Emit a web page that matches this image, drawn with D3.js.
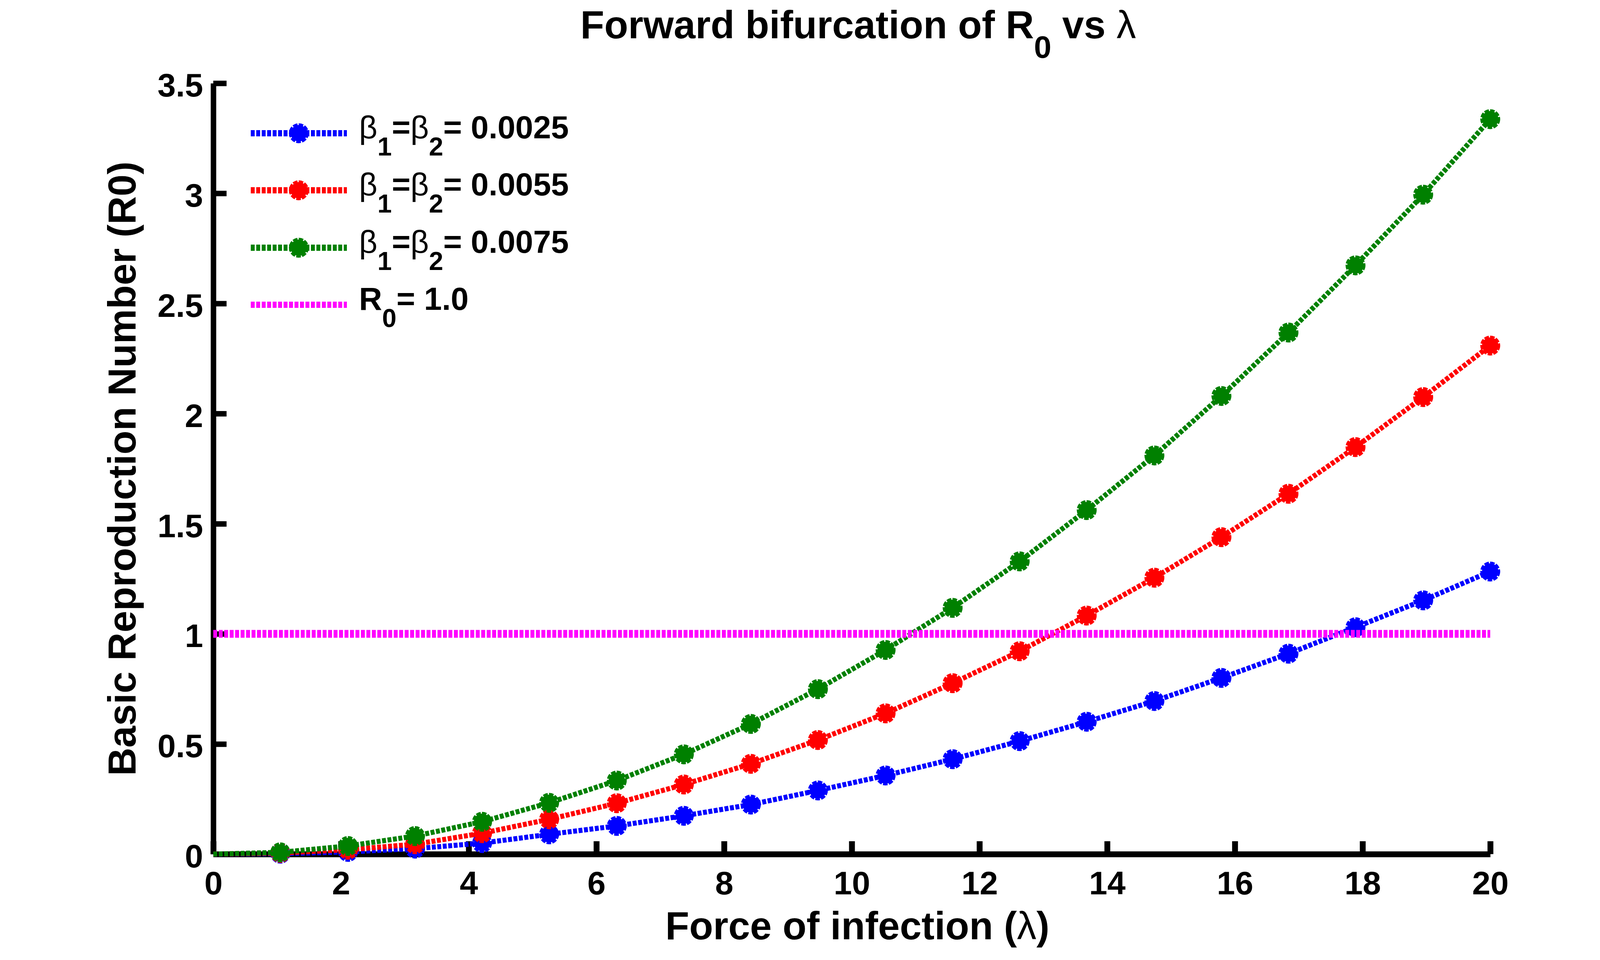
<!DOCTYPE html>
<html>
<head>
<meta charset="utf-8">
<script src="https://cdn.jsdelivr.net/npm/d3@7"></script>
<style>
  html, body { margin: 0; padding: 0; background: #fff; overflow: hidden; }
  svg { display: block; }
  text { font-family: "Liberation Sans", Arial, Helvetica, sans-serif; font-weight: bold; fill: #000; }
  .sym { font-weight: normal; }
</style>
</head>
<body>
<div id="chart"></div>
<script>
// lambda sample points (force of infection)
const lambda = [0, 1.05, 2.11, 3.16, 4.21, 5.26, 6.32, 7.37, 8.42, 9.47,
                10.53, 11.58, 12.63, 13.68, 14.74, 15.79, 16.84, 17.89, 18.95, 20];

// R0 for each beta value
const r0Beta0025 = [0, 0.002, 0.01, 0.025, 0.05, 0.09, 0.128, 0.174, 0.225, 0.289,
                    0.357, 0.431, 0.513, 0.601, 0.695, 0.80, 0.91, 1.03, 1.152, 1.283];
const r0Beta0055 = [0, 0.005, 0.02, 0.045, 0.095, 0.158, 0.231, 0.316, 0.41, 0.518,
                    0.639, 0.776, 0.921, 1.083, 1.255, 1.439, 1.636, 1.848, 2.075, 2.309];
const r0Beta0075 = [0, 0.008, 0.037, 0.082, 0.147, 0.233, 0.334, 0.453, 0.591, 0.749,
                    0.927, 1.118, 1.329, 1.562, 1.81, 2.08, 2.368, 2.673, 2.994, 3.337];
const threshold = 1.0;

const seriesNames = ['0.0025', '0.0055', '0.0075'];
const xTicks = [0, 2, 4, 6, 8, 10, 12, 14, 16, 18, 20];
const yTicks = [0, 0.5, 1, 1.5, 2, 2.5, 3, 3.5];

const W = 4216, H = 2457;
const margin = { top: 213, right: 400, bottom: 271, left: 546 };

const svg = d3.select('#chart').append('svg')
    .attr('width', W)
    .attr('height', H);
svg.append('rect').attr('width', W).attr('height', H).attr('fill', '#fff');

const x = d3.scaleLinear().domain([0, 20]).range([margin.left, 3815]);
const y = d3.scaleLinear().domain([0, 3.5]).range([2186, margin.top]);

// axes (MATLAB style: ticks pointing inward, only left & bottom)
const xAxis = svg.append('g')
    .attr('transform', `translate(0,${y(0)})`)
    .call(d3.axisBottom(x).tickValues(xTicks).tickFormat(d => String(d))
        .tickSizeInner(-33).tickSizeOuter(0).tickPadding(43));
xAxis.select('.domain').attr('stroke-width', 15).attr('stroke', '#000');
xAxis.selectAll('.tick line').attr('stroke-width', 15).attr('stroke', '#000');
xAxis.selectAll('.tick text').style('font-size', '84px').attr('fill', '#000');

const yAxis = svg.append('g')
    .attr('transform', `translate(${x(0)},0)`)
    .call(d3.axisLeft(y).tickValues(yTicks).tickFormat(d => String(d))
        .tickSizeInner(-34).tickSizeOuter(0).tickPadding(26));
yAxis.select('.domain').attr('stroke-width', 14).attr('stroke', '#000');
yAxis.selectAll('.tick line').attr('stroke-width', 14).attr('stroke', '#000');
yAxis.selectAll('.tick text').style('font-size', '84px').attr('dy', '0.4em').attr('fill', '#000');
svg.selectAll('g').attr('font-family', null).attr('font-size', null);

// data series
const series = [
    { name: seriesNames[0], values: r0Beta0025, color: '#0000ff' },
    { name: seriesNames[1], values: r0Beta0055, color: '#ff0000' },
    { name: seriesNames[2], values: r0Beta0075, color: '#008000' }
];

const line = d3.line()
    .x(d => x(d[0]))
    .y(d => y(d[1]));

// filled circle with a dotted edge, like MATLAB markers drawn with ':' style
function styleMarker(sel, color) {
    sel.attr('r', 21)
        .attr('fill', color)
        .attr('stroke', color)
        .attr('stroke-width', 9)
        .attr('stroke-dasharray', '11 3');
}

const plot = svg.append('g');
series.forEach(s => {
    const pts = lambda.map((l, i) => [l, s.values[i]]);
    plot.append('path')
        .datum(pts)
        .attr('d', line)
        .attr('fill', 'none')
        .attr('stroke', s.color)
        .attr('stroke-width', 13)
        .attr('stroke-dasharray', '10 4');
    plot.selectAll(null)
        .data(pts.slice(1))
        .enter()
        .append('circle')
        .attr('cx', d => x(d[0]))
        .attr('cy', d => y(d[1]))
        .call(styleMarker, s.color);
});

// R0 = 1 threshold
plot.append('path')
    .datum([[0, threshold], [20, threshold]])
    .attr('d', line)
    .attr('fill', 'none')
    .attr('stroke', '#ff00ff')
    .attr('stroke-width', 20)
    .attr('stroke-dasharray', '10 4');

// legend
const legend = svg.append('g');
const rowY = [341, 487, 634, 780];
series.forEach((s, i) => {
    const ry = rowY[i];
    legend.append('line')
        .attr('x1', 642).attr('x2', 888)
        .attr('y1', ry).attr('y2', ry)
        .attr('stroke', s.color)
        .attr('stroke-width', 16)
        .attr('stroke-dasharray', '10 4');
    legend.append('circle')
        .attr('cx', 765).attr('cy', ry)
        .call(styleMarker, s.color);
    const t = legend.append('text')
        .attr('x', 919).attr('y', ry + 13)
        .style('font-size', '82px');
    t.append('tspan').attr('class', 'sym').text('β');
    t.append('tspan').attr('dy', 44).style('font-size', '66px').text('1');
    t.append('tspan').attr('dy', -44).text('=');
    t.append('tspan').attr('class', 'sym').text('β');
    t.append('tspan').attr('dy', 44).style('font-size', '66px').text('2');
    t.append('tspan').attr('dy', -44).text('= ' + s.name);
});
legend.append('line')
    .attr('x1', 642).attr('x2', 888)
    .attr('y1', rowY[3]).attr('y2', rowY[3])
    .attr('stroke', '#ff00ff')
    .attr('stroke-width', 16)
    .attr('stroke-dasharray', '10 4');
const lt = legend.append('text')
    .attr('x', 919).attr('y', rowY[3] + 13)
    .style('font-size', '82px');
lt.append('tspan').text('R');
lt.append('tspan').attr('dy', 44).style('font-size', '66px').text('0');
lt.append('tspan').attr('dy', -44).text('= ' + threshold.toFixed(1));

// title
const title = svg.append('text')
    .attr('x', 2197).attr('y', 98)
    .attr('text-anchor', 'middle')
    .style('font-size', '100px');
title.append('tspan').text('Forward bifurcation of R');
title.append('tspan').attr('dy', 50).style('font-size', '80px').text('0');
title.append('tspan').attr('dy', -50).text(' vs ');
title.append('tspan').attr('class', 'sym').text('λ');

// axis titles
const xl = svg.append('text')
    .attr('x', 2195).attr('y', 2404)
    .attr('text-anchor', 'middle')
    .style('font-size', '100px');
xl.append('tspan').text('Force of infection (');
xl.append('tspan').attr('class', 'sym').text('λ');
xl.append('tspan').text(')');

svg.append('text')
    .attr('transform', `translate(347,${(y(0) + y(3.5)) / 2}) rotate(-90)`)
    .attr('text-anchor', 'middle')
    .style('font-size', '100px')
    .text('Basic Reproduction Number (R0)');
</script>
</body>
</html>
